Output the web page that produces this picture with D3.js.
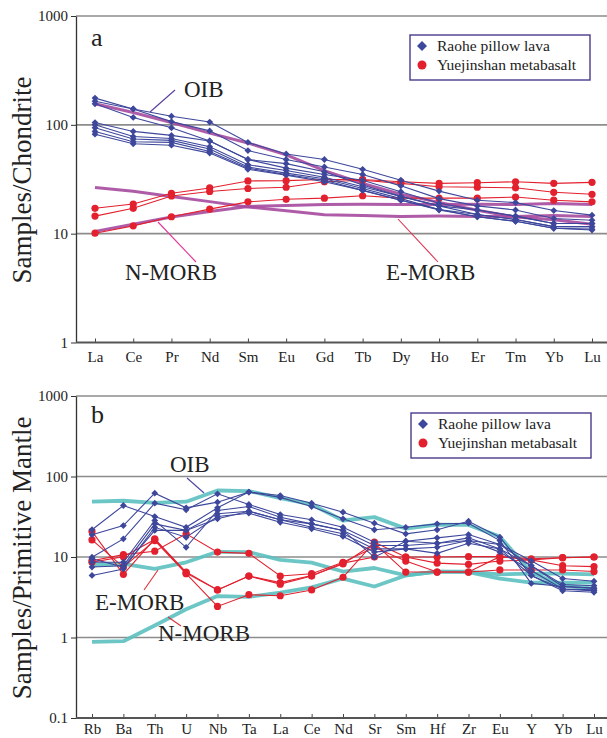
<!DOCTYPE html>
<html><head><meta charset="utf-8">
<script src="https://cdn.jsdelivr.net/npm/d3@7"></script>
<style>body{margin:0;background:#fff}svg{display:block}text{font-family:"Liberation Serif","Times New Roman",serif;fill:#222}</style>
</head><body><svg id="c" width="607" height="738"></svg>
<script>
// ---------- Panel a: REE (chondrite-normalized) ----------
const reeElements = ["La","Ce","Pr","Nd","Sm","Eu","Gd","Tb","Dy","Ho","Er","Tm","Yb","Lu"];
const raoheREE = [
  [176,140,120,106,69,54,48,39,31,24.6,20.3,19.3,16.3,14.8],
  [165,140,107,88,58,48,41,35,27.5,21,18,16.5,13.8,13.3],
  [156,117,94,71,48,40,35,31,24.3,19,16.5,14.5,12.4,12.4],
  [105,87,80,71,48,44,37,28,22,18,16.5,14.5,12.4,12.4],
  [100,78,75,63,43,38,33,27,22,18,15,13.5,11.6,11.6],
  [94,74,72,60,41,36,32,26,21,16.7,15,13.5,11.6,11.6],
  [87,70,69,57,40,35,31,25,20.3,16.7,14.3,13,11.2,10.8],
  [82,67,65,55,39,34.5,30,25,20.3,16.5,14.3,13,11.2,11]
];
const yuejinshanREE = [
  [17.1,18.7,23.5,26.3,30.5,30.7,31.5,31.5,30,29,29.4,30,29,29.6],
  [14.5,17.1,22.2,24.4,26,26.7,30,31,29,27,26.7,26.4,24,23],
  [10.1,11.8,14.3,16.8,19.6,20.7,21.2,22.3,21.2,21.2,21.2,21.7,20.3,19.6]
];
const oibREE   = [156,130,105,84,68,53,38,29,23,19.4,16.4,14.2,13.4,12.2];
const emorbREE = [26.6,24.5,22,19.7,17.6,16.2,14.9,14.7,14.4,14.5,14.4,14.4,14.7,14.4];
const nmorbREE = [10.5,12.2,14.2,16,17.8,18.1,18.5,18.6,18.5,18.5,18.6,18.5,18.9,18.5];
const reeTicks = [1,10,100,1000];

// ---------- Panel b: trace elements (primitive-mantle-normalized) ----------
const spiderElements = ["Rb","Ba","Th","U","Nb","Ta","La","Ce","Nd","Sr","Sm","Hf","Zr","Eu","Y","Yb","Lu"];
const raoheSpider = [
  [21.8,43.6,31.8,23.4,40.8,64,58,46.6,36,26.3,19.4,21.8,27.8,17.6,5.9,4.0,3.9],
  [18.9,24.6,62,40.8,48,64,55,42.4,29.8,21.8,23.4,25.8,26.3,16,4.7,4.3,4.1],
  [9.95,16.8,46.6,38.6,61,45,33.7,29,23.4,15.3,15.7,17.3,19,14.3,9.0,5.4,5.0],
  [8.6,8.6,28.4,13.2,37.8,42.4,31.2,25.8,21.4,13.9,13.9,14.8,17.3,12.6,7.8,4.55,4.4],
  [7.5,7.8,25.8,21.4,34.4,37,29,23.4,19.4,12.6,12.6,13.2,16,11.5,6.8,4.0,3.8],
  [5.9,7.1,23.4,17.6,31.8,35,27,22.4,18,11.5,12.6,11.1,14.8,12.6,5.9,3.8,3.65],
  [9.5,7.5,21.4,21.4,29.8,37,29,25.8,21.4,9.95,15.7,14.8,16,14.3,7.8,4.3,4.1]
];
const yuejinshanSpider = [
  [20.8,6.1,16.8,6.5,3.9,5.8,4.8,5.9,8.2,14.8,6.5,6.5,6.5,10.1,9.2,9.8,10],
  [16.3,7.5,16,6.2,2.43,3.4,3.3,3.9,5.6,15.3,10,8.4,8.1,8.9,9.2,7.8,7.6],
  [9.0,10.7,11.8,19.4,11.5,11.1,5.8,6.2,8.6,13.2,8.9,6.5,6.5,6.9,6.9,6.9,6.6],
  [8.6,10.1,16.5,6.3,3.9,5.8,4.6,5.8,8.4,10,10,10,10.1,10.1,9.5,9.8,10]
];
const oibSpider   = [48.8,50,47,48.6,67,66,54,45,28.4,31.3,22.5,25.2,25,17.9,6.4,4.4,4.05];
const emorbSpider = [7.9,8.2,7.1,8.6,11.6,11.5,9.2,8.5,6.6,7.3,5.9,6.6,6.5,5.4,4.8,4.8,4.8];
const nmorbSpider = [0.88,0.9,1.41,2.24,3.27,3.2,3.6,4.2,5.4,4.3,5.9,6.6,6.6,6.1,6.2,6.2,6.1];
const spiderTicks = [0.1,1,10,100,1000];

const seriesNames = ["Raohe pillow lava","Yuejinshan metabasalt"];

const BLUE = "#3d479b", RED = "#e3202e";
const svg = d3.select("#c");

function diamondPath(r){ return `M0,${-r}L${r},0L0,${r}L${-r},0Z`; }

function panel(cfg){
  const g = svg.append("g");
  const x = d3.scalePoint().domain(cfg.cats).range(cfg.xr).padding(0);
  const y = d3.scaleLog().domain(cfg.ydom).range(cfg.yr);
  const left = 76, right = 607;
  cfg.ticks.forEach((t,i)=>{
    if(i===0) return;
    g.append("line").attr("x1",left).attr("x2",right).attr("y1",y(t)).attr("y2",y(t))
      .attr("stroke","#8c8c8c").attr("stroke-width",1.6);
  });
  const ya = g.append("g").attr("transform",`translate(${left},0)`)
    .call(d3.axisLeft(y).tickValues(cfg.ticks).tickFormat(d=>d<1?d3.format(".1f")(d):d3.format("d")(d)).tickSize(5).tickPadding(3).tickSizeOuter(0));
  ya.select(".domain").attr("stroke","#333").attr("stroke-width",1.3);
  ya.selectAll(".tick line").attr("stroke","#333");
  ya.selectAll("text").style("font-family","Liberation Serif").style("font-size","15px").attr("fill","#222");
  const xa = g.append("g").attr("transform",`translate(0,${cfg.yr[0]})`)
    .call(d3.axisBottom(x).tickSize(-4).tickPadding(cfg.xPad).tickSizeOuter(0));
  xa.select(".domain").remove();
  xa.append("line").attr("x1",left).attr("x2",right).attr("y1",0).attr("y2",0).attr("stroke","#555").attr("stroke-width",2);
  xa.selectAll(".tick line").attr("stroke","#444");
  xa.selectAll("text").style("font-family","Liberation Serif").style("font-size","15px").attr("fill","#222");
  const line = d3.line().x((d,i)=>x(cfg.cats[i])).y(d=>y(d));
  cfg.refs.forEach(r=>{
    g.append("path").attr("d",line(r)).attr("fill","none").attr("stroke",cfg.refColor)
      .attr("stroke-width",cfg.refWidth).attr("stroke-opacity",0.9).attr("stroke-linejoin","round");
  });
  cfg.red.forEach(s=>{
    g.append("path").attr("d",line(s)).attr("fill","none").attr("stroke",RED).attr("stroke-width",1.1);
    g.selectAll(null).data(s).enter().append("circle")
      .attr("cx",(d,i)=>x(cfg.cats[i])).attr("cy",d=>y(d)).attr("r",3.6).attr("fill",RED);
  });
  cfg.blue.forEach(s=>{
    g.append("path").attr("d",line(s)).attr("fill","none").attr("stroke",BLUE).attr("stroke-width",1.1);
    g.selectAll(null).data(s).enter().append("path").attr("d",diamondPath(3.4))
      .attr("transform",(d,i)=>`translate(${x(cfg.cats[i])},${y(d)})`).attr("fill",BLUE);
  });
  g.append("text").attr("x",91).attr("y",cfg.letterY).text(cfg.letter).style("font-size","26px");
  const L = cfg.legend;
  g.append("rect").attr("x",L.x).attr("y",L.y).attr("width",180).attr("height",45)
    .attr("fill","#fff").attr("stroke","#4a3a8c").attr("stroke-width",1.4);
  g.append("path").attr("d",diamondPath(5))
    .attr("transform",`translate(${L.x+12},${L.y+11})`).attr("fill",BLUE);
  g.append("circle").attr("cx",L.x+12).attr("cy",L.y+30).attr("r",4.5).attr("fill",RED);
  g.append("text").attr("x",L.x+27).attr("y",L.y+16).text(seriesNames[0]).style("font-size","15.5px");
  g.append("text").attr("x",L.x+27).attr("y",L.y+35).text(seriesNames[1]).style("font-size","15.5px");
  g.append("text").attr("transform",`translate(31,${cfg.titleY}) rotate(-90)`).attr("text-anchor","middle")
    .text(cfg.title).style("font-size","27px");
  cfg.labels.forEach(a=>{
    g.append("line").attr("x1",a.l[0]).attr("y1",a.l[1]).attr("x2",a.l[2]).attr("y2",a.l[3])
      .attr("stroke",a.c).attr("stroke-width",1.1);
    g.append("text").attr("x",a.x).attr("y",a.y).text(a.t).style("font-size","23px");
  });
}

panel({
  cats: reeElements, xr:[95,592], ydom:[1,1000], yr:[342.5,16], ticks: reeTicks, xPad:9,
  refs:[oibREE, emorbREE, nmorbREE], refColor:"#a64a9e", refWidth:3,
  red: yuejinshanREE, blue: raoheREE,
  letter:"a", letterY:46, legend:{x:410,y:35}, title:"Samples/Chondrite", titleY:180,
  labels:[
    {t:"OIB", x:184, y:97, l:[175,90,150,112], c:"#5a3d9c"},
    {t:"N-MORB", x:125, y:280, l:[158,222,196,262], c:"#e2379a"},
    {t:"E-MORB", x:386, y:280, l:[398,219,438,262], c:"#e0304f"}
  ]
});
panel({
  cats: spiderElements, xr:[92,594], ydom:[0.1,1000], yr:[718,396], ticks: spiderTicks, xPad:5,
  refs:[oibSpider, emorbSpider, nmorbSpider], refColor:"#5cc0c0", refWidth:3.8,
  red: yuejinshanSpider, blue: raoheSpider,
  letter:"b", letterY:423, legend:{x:411,y:413}, title:"Samples/Primitive Mantle", titleY:558,
  labels:[
    {t:"OIB", x:170, y:472, l:[187,478,204,493], c:"#4a46a0"},
    {t:"E-MORB", x:95, y:610, l:[158,570,144,590], c:"#e0303a"},
    {t:"N-MORB", x:158, y:641, l:[168,617,181,626], c:"#e0303a"}
  ]
});
</script></body></html>
